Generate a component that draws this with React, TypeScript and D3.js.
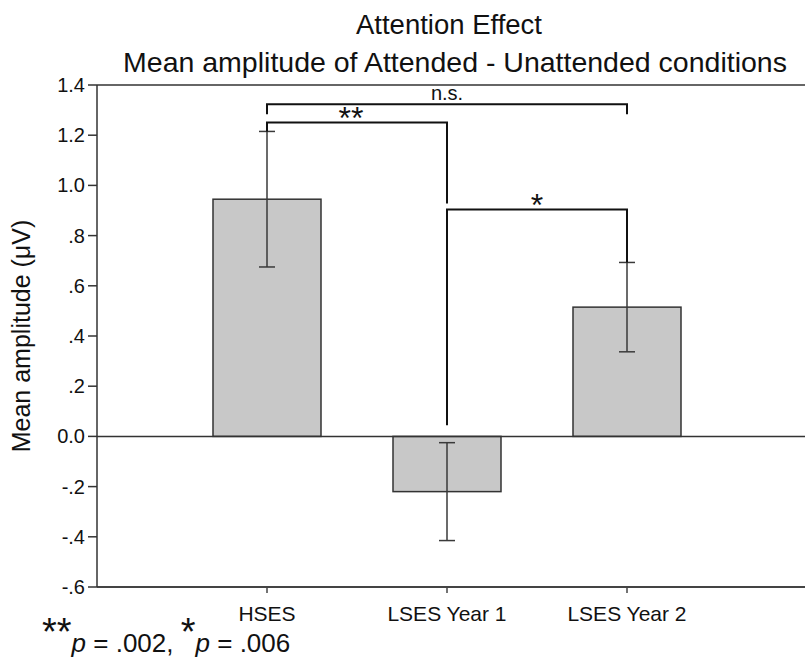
import * as d3 from 'd3';

const categories = ['HSES', 'LSES Year 1', 'LSES Year 2'];
const means = [0.945, -0.22, 0.515];
const errors = [0.27, 0.195, 0.178];
const yTicks = [-0.6, -0.4, -0.2, 0, 0.2, 0.4, 0.6, 0.8, 1.0, 1.2, 1.4];
const yTickLabels = ['-.6', '-.4', '-.2', '0.0', '.2', '.4', '.6', '.8', '1.0', '1.2', '1.4'];

// significance brackets: bar indices, bar height (value), drop ends (value), label
const brackets = [
  { from: 0, to: 2, level: 1.323, leftEnd: 1.283, rightEnd: 1.283, label: 'n.s.' },
  { from: 0, to: 1, level: 1.251, leftEnd: 1.215, rightEnd: 0.928, label: '**' },
  { from: 1, to: 2, level: 0.904, leftEnd: 0.044, rightEnd: 0.693, label: '*' },
];

const W = 805;
const H = 661;
const axisX = 97;
const font = "'Liberation Sans', Arial, sans-serif";

export default function App() {
  const y = d3.scaleLinear().domain([-0.6, 1.4]).range([587, 85]);
  const x = d3.scaleBand<string>().domain(categories).range([177, 717]).paddingInner(0.4).paddingOuter(0.2);
  const cx = (i: number) => (x(categories[i]) ?? 0) + x.bandwidth() / 2;

  return (
    <svg
      width={W}
      height={H}
      style={{ position: 'absolute', left: 0, top: 0, background: '#fff' }}
      fontFamily={font}
    >
      <text x={449} y={34} textAnchor="middle" fontSize={27.5} fill="#111">Attention Effect</text>
      <text x={455} y={72} textAnchor="middle" fontSize={28.5} fill="#111">
        Mean amplitude of Attended - Unattended conditions
      </text>

      {/* frame lines */}
      <line x1={axisX} x2={W} y1={y(1.4)} y2={y(1.4)} stroke="#333" strokeWidth={1.5} />
      <line x1={axisX} x2={W} y1={y(-0.6)} y2={y(-0.6)} stroke="#444" strokeWidth={2} />
      <line x1={axisX} x2={axisX} y1={y(1.4)} y2={y(-0.6)} stroke="#333" strokeWidth={1.5} />

      {yTicks.map((t, i) => (
        <g key={t}>
          <line x1={axisX - 9} x2={axisX} y1={y(t)} y2={y(t)} stroke="#333" strokeWidth={1.5} />
          <text x={axisX - 12} y={y(t) + 7} textAnchor="end" fontSize={20} fill="#111">
            {yTickLabels[i]}
          </text>
        </g>
      ))}

      <text
        transform={`translate(30,${(y(1.4) + y(-0.6)) / 2}) rotate(-90)`}
        textAnchor="middle"
        fontSize={25}
        fill="#111"
      >
        Mean amplitude (μV)
      </text>

      {categories.map((c, i) => (
        <g key={c}>
          <line x1={cx(i)} x2={cx(i)} y1={y(-0.6)} y2={y(-0.6) + 6} stroke="#444" strokeWidth={1.5} />
          <text x={cx(i)} y={621} textAnchor="middle" fontSize={21} fill="#111">{c}</text>
        </g>
      ))}

      {means.map((m, i) => (
        <rect
          key={i}
          x={x(categories[i])}
          width={x.bandwidth()}
          y={y(Math.max(0, m))}
          height={Math.abs(y(m) - y(0))}
          fill="#c8c8c8"
          stroke="#333"
          strokeWidth={1.5}
        />
      ))}

      <line x1={axisX} x2={W} y1={y(0)} y2={y(0)} stroke="#333" strokeWidth={1.5} />

      {means.map((m, i) => (
        <g key={i} stroke="#3a3a3a" strokeWidth={1.5}>
          <line x1={cx(i)} x2={cx(i)} y1={y(m + errors[i])} y2={y(m - errors[i])} />
          <line x1={cx(i) - 8} x2={cx(i) + 8} y1={y(m + errors[i])} y2={y(m + errors[i])} />
          <line x1={cx(i) - 8} x2={cx(i) + 8} y1={y(m - errors[i])} y2={y(m - errors[i])} />
        </g>
      ))}

      {brackets.map((b, i) => {
        const x1 = cx(b.from);
        const x2 = cx(b.to);
        const path = `M${x1},${y(b.leftEnd)}V${y(b.level)}H${x2}V${y(b.rightEnd)}`;
        const isStar = b.label !== 'n.s.';
        return (
          <g key={i}>
            <path d={path} fill="none" stroke="#111" strokeWidth={2} />
            <text
              x={(x1 + x2) / 2 - (b.label === '**' ? 6 : 0)}
              y={y(b.level) - (isStar ? -7 : 4)}
              textAnchor="middle"
              fontSize={isStar ? 32 : 20}
              fill="#111"
            >
              {b.label}
            </text>
          </g>
        );
      })}

      <text x={42} y={652} fontSize={26} fill="#111">
        <tspan fontSize={38} dy={-7}>**</tspan>
        <tspan fontStyle="italic" dy={7}>p</tspan>
        <tspan> = .002, </tspan>
        <tspan fontSize={38} dy={-7}>*</tspan>
        <tspan fontStyle="italic" dy={7}>p</tspan>
        <tspan> = .006</tspan>
      </text>
    </svg>
  );
}
